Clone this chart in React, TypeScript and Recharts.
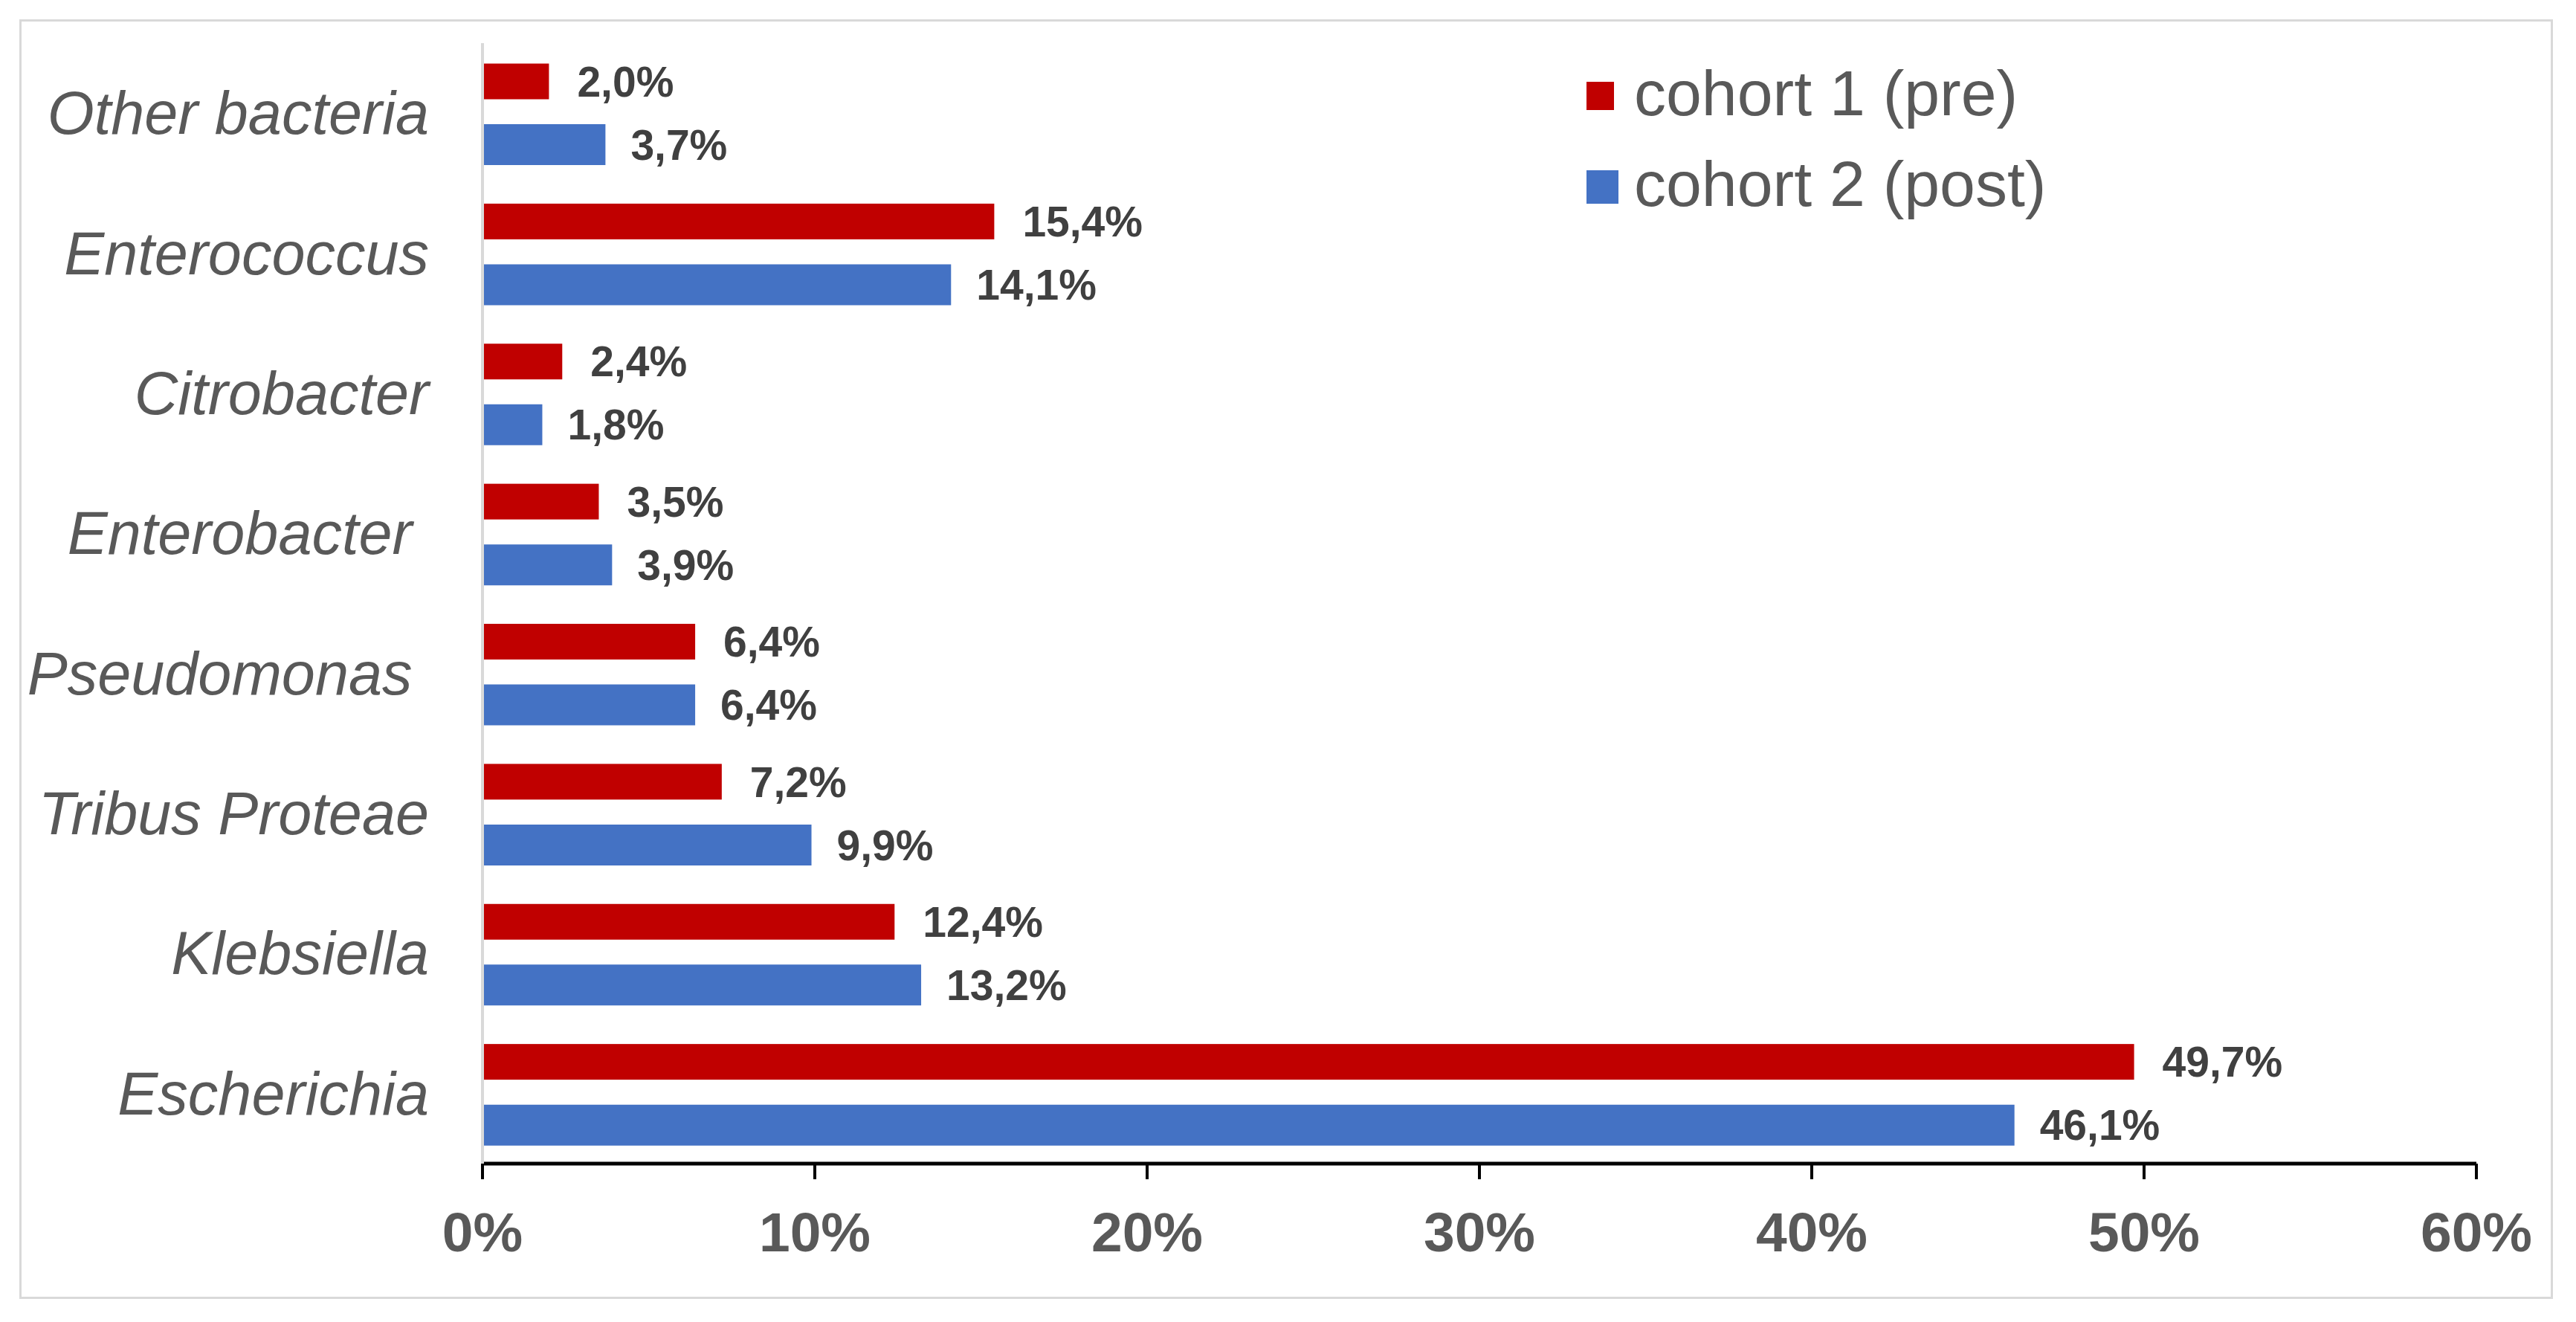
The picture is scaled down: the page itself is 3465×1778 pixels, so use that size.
import React from 'react'
import { BarChart, Bar, XAxis, YAxis, LabelList, Legend } from 'recharts'

// top-to-bottom order as in the figure (trailing spaces are in the original labels)
const categories = ['Other bacteria', 'Enterococcus', 'Citrobacter', 'Enterobacter ', 'Pseudomonas ', 'Tribus Proteae', 'Klebsiella', 'Escherichia']
const cohort1 = [2.0, 15.4, 2.4, 3.5, 6.4, 7.2, 12.4, 49.7]
const cohort2 = [3.7, 14.1, 1.8, 3.9, 6.4, 9.9, 13.2, 46.1]
const xTicks = [0, 10, 20, 30, 40, 50, 60]
const seriesNames = ['cohort 1 (pre)', 'cohort 2 (post)']

const RED = '#c00000'
const BLUE = '#4472c4'
const FONT = '"Liberation Sans", Arial, Helvetica, sans-serif'

const data = categories.map((name, i) => ({ name, pre: cohort1[i], post: cohort2[i] }))

const fmt = (v: any) => `${Number(v).toFixed(1).replace('.', ',')}%`

// red bars are a bit thinner than the blue ones in the original
function InsetBar(props: any) {
  const { x, y, width, height, fill } = props
  if (!width || width <= 0) return null
  return <rect x={x} y={y + 3.5} width={width} height={Math.max(height - 7, 0)} fill={fill} />
}

function CategoryTick({ x, y, payload }: any) {
  return (
    <text
      x={x}
      y={y}
      textAnchor="end"
      dominantBaseline="central"
      fontSize={81}
      fontStyle="italic"
      fill="#595959"
      fontFamily={FONT}
      style={{ whiteSpace: 'pre' }}
    >
      {payload.value}
    </text>
  )
}

function PercentTick({ x, y, payload }: any) {
  return (
    <text x={x} y={y} dy={97} textAnchor="middle" fontSize={75} fontWeight="bold" fill="#595959" fontFamily={FONT}>
      {`${payload.value}%`}
    </text>
  )
}

function LegendBox({ payload }: any) {
  const items = payload ?? []
  return (
    <div style={{ display: 'flex', flexDirection: 'column', fontFamily: FONT }}>
      {items.map((entry: any, i: number) => (
        <div key={entry.value} style={{ height: 122, display: 'flex', alignItems: 'center' }}>
          <span
            style={{
              display: 'inline-block',
              width: i === 0 ? 37 : 43,
              height: i === 0 ? 38 : 45,
              background: entry.color,
              marginRight: i === 0 ? 27 : 21,
            }}
          />
          <span style={{ fontSize: 86, color: '#595959', lineHeight: 1, marginTop: -8 }}>{entry.value}</span>
        </div>
      ))}
    </div>
  )
}

export default function App() {
  return (
    <div style={{ position: 'relative', width: 3465, height: 1778, fontFamily: FONT, background: '#fff' }}>
      <style>{'body{margin:0}'}</style>
      <div
        style={{
          position: 'absolute',
          left: 26,
          top: 26,
          width: 3408,
          height: 1721,
          border: '3px solid #d9d9d9',
          boxSizing: 'border-box',
        }}
      />
      <BarChart
        width={3465}
        height={1778}
        data={data}
        layout="vertical"
        margin={{ top: 58, right: 134, bottom: 93, left: 0 }}
        barSize={55}
        barGap={30}
      >
        <XAxis
          type="number"
          domain={[0, 60]}
          ticks={xTicks}
          interval={0}
          height={120}
          tickSize={21}
          tickMargin={0}
          axisLine={{ stroke: '#000', strokeWidth: 5 }}
          tickLine={{ stroke: '#000', strokeWidth: 4 }}
          tick={<PercentTick />}
        />
        <YAxis
          type="category"
          dataKey="name"
          width={649}
          tickSize={0}
          tickMargin={72}
          tickLine={false}
          axisLine={{ stroke: '#d9d9d9', strokeWidth: 4 }}
          tick={<CategoryTick />}
          interval={0}
        />
        <Legend
          layout="vertical"
          align="center"
          verticalAlign="middle"
          wrapperStyle={{ left: 2134, top: 68, width: 1000 }}
          content={<LegendBox />}
        />
        <Bar dataKey="pre" name={seriesNames[0]} fill={RED} shape={<InsetBar />} isAnimationActive={false}>
          <LabelList dataKey="pre" position="right" offset={38} formatter={fmt} fontSize={57} fontWeight="bold" fill="#404040" fontFamily={FONT} />
        </Bar>
        <Bar dataKey="post" name={seriesNames[1]} fill={BLUE} isAnimationActive={false}>
          <LabelList dataKey="post" position="right" offset={34} formatter={fmt} fontSize={57} fontWeight="bold" fill="#404040" fontFamily={FONT} />
        </Bar>
      </BarChart>
    </div>
  )
}
